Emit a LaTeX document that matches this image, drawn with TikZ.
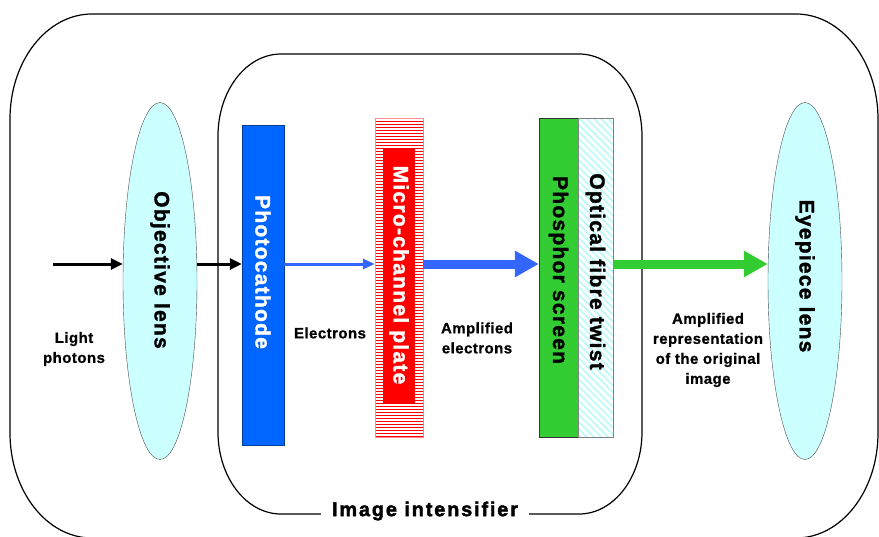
\documentclass[tikz,border=0pt]{standalone}
\usepackage{fontspec}
\setmainfont{Liberation Sans}
\newfontfamily\widefont[LetterSpace=6,FakeBold=1.5]{Liberation Sans}
\newfontfamily\notefont[LetterSpace=3,FakeBold=0.8]{Liberation Sans}
\newfontfamily\titlefont[LetterSpace=9,FakeBold=2]{Liberation Sans}
\usepackage{tikz}
\usetikzlibrary{shapes.geometric,arrows.meta,patterns.meta}
\definecolor{lenscyan}{RGB}{204,255,255}
\definecolor{pcblue}{RGB}{0,102,255}
\definecolor{ebluecol}{RGB}{51,102,255}
\definecolor{mcpred}{RGB}{255,0,0}
\definecolor{phosgreen}{RGB}{51,204,51}
\definecolor{hatchcyan}{RGB}{190,250,250}
\newcommand{\arrowy}{264}
\newcommand{\tuberx}{82}
\newcommand{\tubery}{105}

\tikzset{
  boxline/.style={line width=1.2pt},
  lens/.style={ellipse, draw=black!70, fill=lenscyan, rotate=-90, minimum width=357, minimum height=74, inner sep=0pt},
  plate/.style={rectangle, rotate=-90, inner sep=0pt, minimum width=319},
  vtext/.style={rotate=-90, inner sep=0pt, font=\widefont\bfseries\fontsize{21}{23}\selectfont},
  note/.style={align=center, inner sep=0pt, font=\notefont\bfseries\fontsize{15}{20}\selectfont},
  photon/.style={-{Triangle[length=12pt,width=11pt]}, line width=3pt},
  electron/.style={-{Triangle[length=12pt,width=10pt]}, line width=3pt, ebluecol},
  beam/.style={-{Triangle[length=24pt,width=25pt]}, line width=9pt},
}

\begin{document}
\begin{tikzpicture}[x=1pt,y=-1pt]
\useasboundingbox (0,0) rectangle (879,536);
% housing
\draw[boxline] (10,433) -- (10,119) arc[start angle=180,end angle=270,x radius=\tuberx,y radius=\tubery]
  -- (796,14) arc[start angle=270,end angle=360,x radius=\tuberx,y radius=\tubery]
  -- (878,433) arc[start angle=0,end angle=90,x radius=\tuberx,y radius=\tubery]
  -- (92,538) arc[start angle=90,end angle=180,x radius=\tuberx,y radius=\tubery] -- cycle;
% image intensifier
\draw[boxline] (218,432) -- (218,136) arc[start angle=180,end angle=270,x radius=63,y radius=82]
  -- (579,54) arc[start angle=270,end angle=360,x radius=63,y radius=82]
  -- (642,432) arc[start angle=0,end angle=90,x radius=63,y radius=82]
  -- (281,514) arc[start angle=90,end angle=180,x radius=63,y radius=82] -- cycle;
\node[fill=white, inner xsep=11pt, inner ysep=2pt, font=\titlefont\bfseries\fontsize{20}{22}\selectfont] (intens) at (425,511) {Image intensifier};

% lenses
\node[lens] (objlens) at (160,281) {};
\node[lens] (eyelens) at (805,281) {};
\node[vtext] (objtext) at (160,270) {Objective lens};
\node[vtext] (eyetext) at (805,276) {Eyepiece lens};

% photocathode
\node[plate, fill=pcblue, draw=pcblue!60!black, minimum width=320, minimum height=42] (pc) at (263,285) {};
\node[vtext, white] (pctext) at (263,272) {Photocathode};

% micro-channel plate
\node[plate, fill=mcpred, draw=mcpred!45, minimum height=48] (mcp) at (399,277.5) {};
\foreach \yy in {120,123,...,435}
  \draw[white, line width=1.2pt] (375.5,\yy) -- (422.5,\yy);
\node[plate, fill=mcpred, minimum width=255, minimum height=32] (mcpcore) at (399,275.5) {};
\node[vtext, white] (mcptext) at (399,275) {Micro-channel plate};

% phosphor screen and fibre twist
\node[plate, fill=phosgreen, draw=black!80, minimum height=39] (phos) at (558.5,277.5) {};
\fill[pattern={Lines[angle=-45,distance=5pt,line width=1.8pt]}, pattern color=hatchcyan] (578,118) rectangle (613,437);
\node[plate, draw=black!50, minimum height=35] (fibre) at (595.5,277.5) {};
\node[vtext] (phostext) at (558.5,270) {Phosphor screen};
\node[vtext] (fibretext) at (595.5,271.5) {Optical fibre twist};

% beams
\coordinate (lightsrc) at (53,\arrowy);
\draw[photon] (lightsrc) -- (lightsrc -| objlens.south);
\draw[photon] (objlens.north |- lightsrc) -- (lightsrc -| pc.south);
\draw[electron] (pc.north |- lightsrc) -- (lightsrc -| mcp.south);
\draw[beam, ebluecol] (mcp.north |- lightsrc) -- (lightsrc -| phos.south);
\draw[beam, phosgreen] (fibre.north |- lightsrc) -- (lightsrc -| eyelens.south);

% notes
\node[note] (lighttext) at (74,349) {Light\\photons};
\node[note] (electext) at (330,333) {Electrons};
\node[note] (ampelec) at (477,338) {Amplified\\electrons};
\node[note] (amprep) at (708,350) {Amplified\\representation\\of the original\\image};
\end{tikzpicture}
\end{document}
